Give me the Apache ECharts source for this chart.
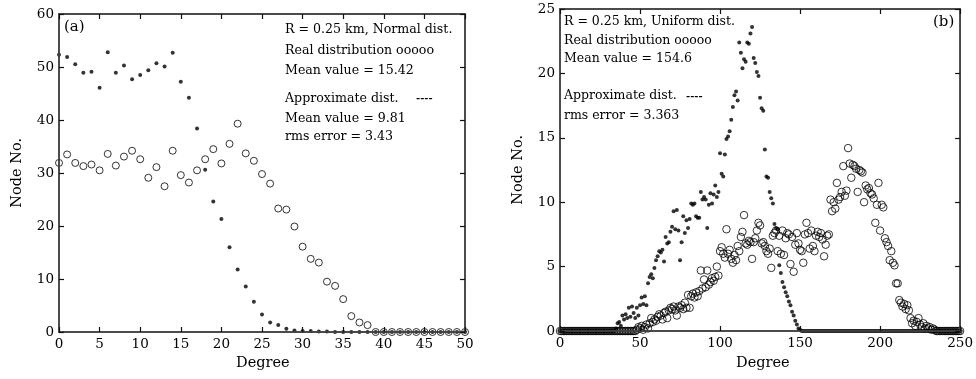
<!DOCTYPE html>
<html><head><meta charset="utf-8">
<script src="https://cdn.jsdelivr.net/npm/echarts@6/dist/echarts.min.js"></script>
<style>html,body{margin:0;padding:0;background:#fff}#c{width:976px;height:379px}</style>
</head><body><div id="c"></div>
<script>
// ---------- Panel (a): degree 0..50 ----------
const aReal = [31.9,33.5,31.9,31.3,31.6,30.5,33.6,31.4,33.1,34.2,
  32.6,29.1,31.1,27.5,34.2,29.6,28.2,30.5,32.6,34.5,
  31.8,35.5,39.3,33.7,32.3,29.8,28.0,23.3,23.1,19.9,
  16.1,13.8,13.1,9.5,8.7,6.2,3.0,1.8,1.3,0,
  0,0,0,0,0,0,0,0,0,0,0];
const aApprox = [52.3,51.9,50.5,48.9,49.1,46.1,52.8,48.9,50.3,47.7,
  48.5,49.4,50.7,50.1,52.7,47.2,44.2,38.4,30.6,24.6,
  21.3,16.0,11.8,8.6,5.7,3.3,1.8,1.3,0.6,0.3,
  0.2,0.2,0.1,0.1,0,0,0,0,0,0,
  0,0,0,0,0,0,0,0,0,0,0];
const aXTicks = {min:0, max:50, interval:5};
const aYTicks = {min:0, max:60, interval:10};

// ---------- Panel (b): degree 0..250 ----------
const bApprox = [
  0,0,0,0,0,0,0,0,0,0, 0,0,0,0,0,0,0,0,0,0, 0,0,0,0,0,0,0,0,0,0, 0,0,0,0,0,
  0.2,0.6,0.7,0.4,1.2,0.9,1.3,1.0,1.8,1.1,
  1.9,1.4,1.0,1.8,1.2,2.0,2.6,2.1,2.7,2.0,
  3.7,4.2,4.4,4.1,4.9,5.5,5.8,6.2,6.1,6.3,
  5.4,7.3,6.8,6.9,7.7,8.1,9.3,7.9,9.4,7.8,
  5.5,6.9,8.9,7.6,8.6,8.0,8.7,9.9,9.8,9.9,
  8.9,8.8,8.8,10.8,10.2,10.4,10.2,8.0,9.8,10.7,
  9.9,10.6,11.3,10.4,10.8,13.8,12.2,12.0,13.7,14.9,
  15.1,15.5,16.4,17.4,18.3,18.6,17.9,22.4,21.6,20.4,
  21.1,20.9,22.4,22.3,23.1,23.6,21.2,20.8,20.1,19.8,
  18.1,17.3,17.1,14.1,12.0,11.9,10.8,10.3,9.9,8.3,
  8.0,7.9,5.1,4.5,3.8,3.4,3.0,2.7,2.3,2.0,
  1.5,1.2,0.8,0.5,0.2,0.1,
  0,0,0,0,0,0,0,0,0,0, 0,0,0,0,0,0,0,0,0,0, 0,0,0,0,0,0,0,0,0,0, 0,0,0,0,0,0,0,0,0,0,
  0,0,0,0,0,0,0,0,0,0, 0,0,0,0,0,0,0,0,0,0, 0,0,0,0,0,0,0,0,0,0, 0,0,0,0,0,0,0,0,0,0,
  0,0,0,0,0,0,0,0,0,0, 0,0,0,0,0,0,0,0,0,0
];
const bReal = [
  0,0,0,0,0,0,0,0,0,0, 0,0,0,0,0,0,0,0,0,0, 0,0,0,0,0,0,0,0,0,0, 0,0,0,0,0,0,0,0,0,0,
  0,0,0,0,0,0,0,0,
  0.1,0.3,0.2,0.4,0.1,0.3,0.5,0.2,0.6,1.0,
  0.7,0.9,0.8,1.1,1.3,1.2,0.9,1.4,1.5,1.0,
  1.6,1.8,1.7,1.9,1.6,1.2,1.9,1.8,2.0,1.7,
  2.2,1.8,2.8,1.8,2.7,2.9,2.6,3.0,2.7,3.1,
  4.7,3.3,4.0,3.4,4.7,3.6,3.8,4.1,3.9,4.2,
  5.0,4.3,6.2,6.5,6.0,5.7,7.9,6.0,6.3,5.6,
  5.3,5.9,5.5,6.6,6.2,7.3,7.7,9.0,6.8,6.7,
  7.0,6.9,5.6,6.9,7.2,7.8,8.4,8.2,6.8,6.9,
  6.6,6.2,6.0,6.4,4.9,7.4,7.6,7.8,6.2,7.4,
  6.0,7.8,5.9,7.2,7.6,7.5,5.2,7.3,4.6,6.7,
  7.6,6.8,6.3,6.2,5.3,7.5,8.4,7.6,6.4,7.8,
  6.6,6.2,7.4,7.7,7.3,7.6,7.1,5.8,6.7,7.4,
  7.5,10.2,9.3,10.0,9.5,11.5,10.2,10.4,10.8,12.8,
  10.5,10.9,14.2,13.0,11.9,12.9,12.8,12.6,10.8,12.5,
  12.4,12.3,10.0,11.3,11.0,11.1,10.7,10.6,10.3,8.4,
  9.8,11.5,7.8,9.8,9.6,7.2,6.9,6.6,5.5,6.2,
  5.3,5.1,3.7,3.7,2.4,2.2,1.9,2.1,1.7,2.0,
  1.6,1.0,0.6,0.8,0.4,0.7,1.0,0.5,0.3,0.6,
  0.2,0.4,0.2,0.3,0.1,0.2,0.1,
  0,0,0,0,0,0,0,0,0,0,0,0,0,0,0,0
];
const bXTicks = {min:0, max:250, interval:50};
const bYTicks = {min:0, max:25, interval:5};

const annotA = ['R = 0.25 km, Normal dist.', 'Real distribution ooooo', 'Mean value = 15.42',
                'Approximate dist.', 'Mean value = 9.81', 'rms error = 3.43'];
const annotB = ['R = 0.25 km, Uniform dist.', 'Real distribution ooooo', 'Mean value = 154.6',
                'Approximate dist.', 'rms error = 3.363'];
const dashMark = '----';
const xName = 'Degree';
const yName = 'Node No.';

const FONT = 'DejaVu Serif';
const AX = '#404040';
const pairs = arr => arr.map((v, i) => [i, v]);

function makeAxis(kind, gi, t, isMain) {
  const ax = {
    type: 'value', gridIndex: gi, min: t.min, max: t.max, interval: t.interval,
    zlevel: 1, z: 10,
    axisLine: {show: true, onZero: false, lineStyle: {color: AX, width: 1.5}},
    axisTick: {show: true, inside: true, length: 5, lineStyle: {color: '#111', width: 1.2}},
    splitLine: {show: false}
  };
  if (isMain) {
    ax.axisLabel = {show: true, color: '#000', fontFamily: FONT, fontSize: 13.5, margin: 5};
  } else {
    ax.position = kind === 'x' ? 'top' : 'right';
    ax.axisLabel = {show: false};
  }
  return ax;
}

function textLines(lines, x, ys, size) {
  return lines.map((t, i) => ({
    type: 'text', left: x, top: ys[i] - size * 0.6, silent: true, zlevel: 1,
    style: {text: t, fill: '#000', font: size + 'px "' + FONT + '"'}
  }));
}

const rectA = {left: 59, top: 14, width: 406, height: 318};
const rectB = {left: 560, top: 9, width: 405, height: 322};
const framed = r => Object.assign({show: true, borderColor: AX, borderWidth: 1.5,
  backgroundColor: 'transparent', zlevel: 1, z: 9}, r);

const chart = echarts.init(document.getElementById('c'));
const option = {
  animation: false,
  grid: [framed(rectA), framed(rectB)],
  xAxis: [makeAxis('x', 0, aXTicks, true), makeAxis('x', 0, aXTicks, false),
          makeAxis('x', 1, bXTicks, true), makeAxis('x', 1, bXTicks, false)],
  yAxis: [makeAxis('y', 0, aYTicks, true), makeAxis('y', 0, aYTicks, false),
          makeAxis('y', 1, bYTicks, true), makeAxis('y', 1, bYTicks, false)],
  series: [
    {type: 'scatter', xAxisIndex: 0, yAxisIndex: 0, data: pairs(aReal), symbol: 'circle', symbolSize: 7, clip: false,
     itemStyle: {color: 'rgba(0,0,0,0)', borderColor: '#000', borderWidth: 1}},
    {type: 'scatter', xAxisIndex: 0, yAxisIndex: 0, data: pairs(aApprox), symbol: 'circle', symbolSize: 4, clip: false,
     itemStyle: {color: '#000'}},
    {type: 'scatter', xAxisIndex: 2, yAxisIndex: 2, data: pairs(bReal), symbol: 'circle', symbolSize: 7.5, clip: false,
     itemStyle: {color: 'rgba(0,0,0,0)', borderColor: '#000', borderWidth: 1}},
    {type: 'scatter', xAxisIndex: 2, yAxisIndex: 2, data: pairs(bApprox), symbol: 'circle', symbolSize: 4, clip: false,
     itemStyle: {color: '#000'}}
  ],
  graphic: [
    ...textLines(annotA, 285, [31, 51.5, 72, 100, 119.5, 138], 12.6),
    ...textLines(annotB, 564, [22.5, 42, 60, 97, 117], 12.5),
    {type: 'text', left: 416, top: 93, silent: true, zlevel: 1, style: {text: dashMark, fill: '#000', font: 'bold 10px "' + FONT + '"'}},
    {type: 'text', left: 686, top: 91, silent: true, zlevel: 1, style: {text: dashMark, fill: '#000', font: 'bold 10px "' + FONT + '"'}},
    {type: 'text', left: 10, top: 138, rotation: Math.PI / 2, silent: true, zlevel: 1,
     style: {text: yName, fill: '#000', font: '14.5px "' + FONT + '"'}},
    {type: 'text', left: 511, top: 135, rotation: Math.PI / 2, silent: true, zlevel: 1,
     style: {text: yName, fill: '#000', font: '14.5px "' + FONT + '"'}},
    {type: 'text', left: 236, top: 356, silent: true, zlevel: 1, style: {text: xName, fill: '#000', font: '14.5px "' + FONT + '"'}},
    {type: 'text', left: 736, top: 356, silent: true, zlevel: 1, style: {text: xName, fill: '#000', font: '14.5px "' + FONT + '"'}},
    {type: 'text', left: 64, top: 20, silent: true, zlevel: 1, style: {text: '(a)', fill: '#000', font: '15px "' + FONT + '"'}},
    {type: 'text', left: 933, top: 15, silent: true, zlevel: 1, style: {text: '(b)', fill: '#000', font: '15px "' + FONT + '"'}}
  ]
};
chart.setOption(option);
</script>
</body></html>
